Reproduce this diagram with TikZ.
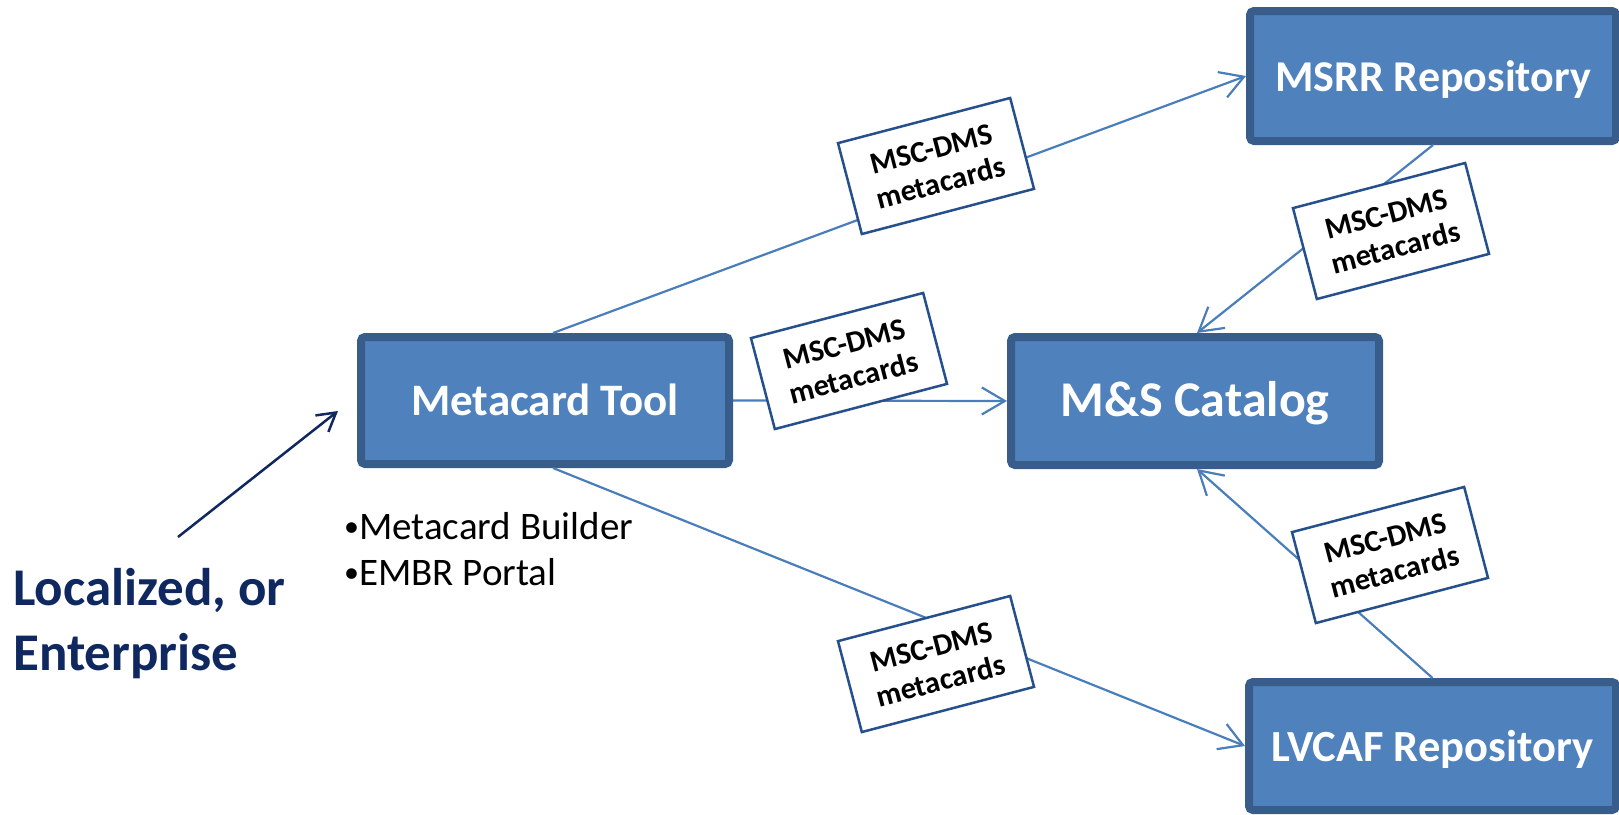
\documentclass[tikz,border=0pt]{standalone}
\usepackage{fontspec}
\setmainfont{Carlito}
\usetikzlibrary{arrows.meta}
\definecolor{boxfill}{HTML}{4F81BD}
\definecolor{boxborder}{HTML}{385D8A}
\definecolor{connc}{HTML}{4A7EBB}
\definecolor{lblborder}{RGB}{38,80,140}
\definecolor{navy}{RGB}{15,40,95}
\tikzset{
  bigbox/.style={draw=boxborder, fill=boxfill, line width=8pt, rounded corners=4pt,
    text=white, font=\bfseries\fontsize{45}{52}\selectfont, inner sep=0pt,
    text height=32pt, text depth=2pt},
  lbl/.style={draw=lblborder, fill=white, line width=2.5pt, minimum width=178pt,
    minimum height=94pt, rotate=14.7, align=center,
    font=\bfseries\fontsize{30.5}{35}\selectfont, inner sep=0pt},
  conn/.style={draw=connc, line width=2.2pt, -{Straight Barb[length=23pt,width=27pt]}},
  navyarrow/.style={draw=navy, line width=2.5pt, -{Straight Barb[length=18pt,width=21pt]}},
  bigtext/.style={text=navy, font=\bfseries\fontsize{53}{60}\selectfont, inner sep=0pt, anchor=base west},
  bullettext/.style={text=black, font=\fontsize{39}{46}\selectfont, inner sep=0pt, anchor=base west}
}
\newcommand{\smallbullet}{\raisebox{3pt}{\fontsize{30}{30}\selectfont •}}
\begin{document}
\begin{tikzpicture}[x=1pt,y=-1pt]
\useasboundingbox (0,0) rectangle (1619,814);
% main boxes
\node[bigbox, minimum width=368pt, minimum height=127pt] (mt) at (545,400.5) {Metacard Tool};
\node[bigbox, minimum width=368pt, minimum height=128pt, font=\bfseries\fontsize{50}{58}\selectfont] (ms) at (1195,401) {M\&S Catalog};
\node[bigbox, minimum width=366pt, minimum height=130pt, font=\bfseries\fontsize{44}{52}\selectfont] (msrr) at (1433,76) {MSRR Repository};
\node[bigbox, minimum width=367pt, minimum height=128pt, font=\bfseries\fontsize{44.5}{52}\selectfont] (lv) at (1432.5,746) {LVCAF Repository};
% connectors
\draw[conn] ([xshift=8pt]mt.north) -- (msrr.west);
\draw[conn] (mt.east) -- (ms.west);
\draw[conn] ([xshift=8pt]mt.south) -- (lv.west);
\draw[conn] (msrr.south) -- ([xshift=2pt]ms.north);
\draw[conn] (lv.north) -- ([xshift=2pt]ms.south);
% labels
\node[lbl] (l1) at (936,166) {MSC-DMS\\metacards};
\node[lbl] (l2) at (1391,231) {MSC-DMS\\metacards};
\node[lbl] (l3) at (849,361) {MSC-DMS\\metacards};
\node[lbl] (l4) at (936,664) {MSC-DMS\\metacards};
\node[lbl] (l5) at (1390,555) {MSC-DMS\\metacards};
% left side
\coordinate (ns) at (178,537);
\coordinate (ne) at (338,411);
\draw[navyarrow] (ns) -- (ne);
\node[bigtext] (loc1) at (13,605) {Localized, or};
\node[bigtext] (loc2) at (13,670) {Enterprise};
\node[bullettext] (b1) at (344,539) {\smallbullet Metacard Builder};
\node[bullettext] (b2) at (344,585) {\smallbullet EMBR Portal};
\end{tikzpicture}
\end{document}
